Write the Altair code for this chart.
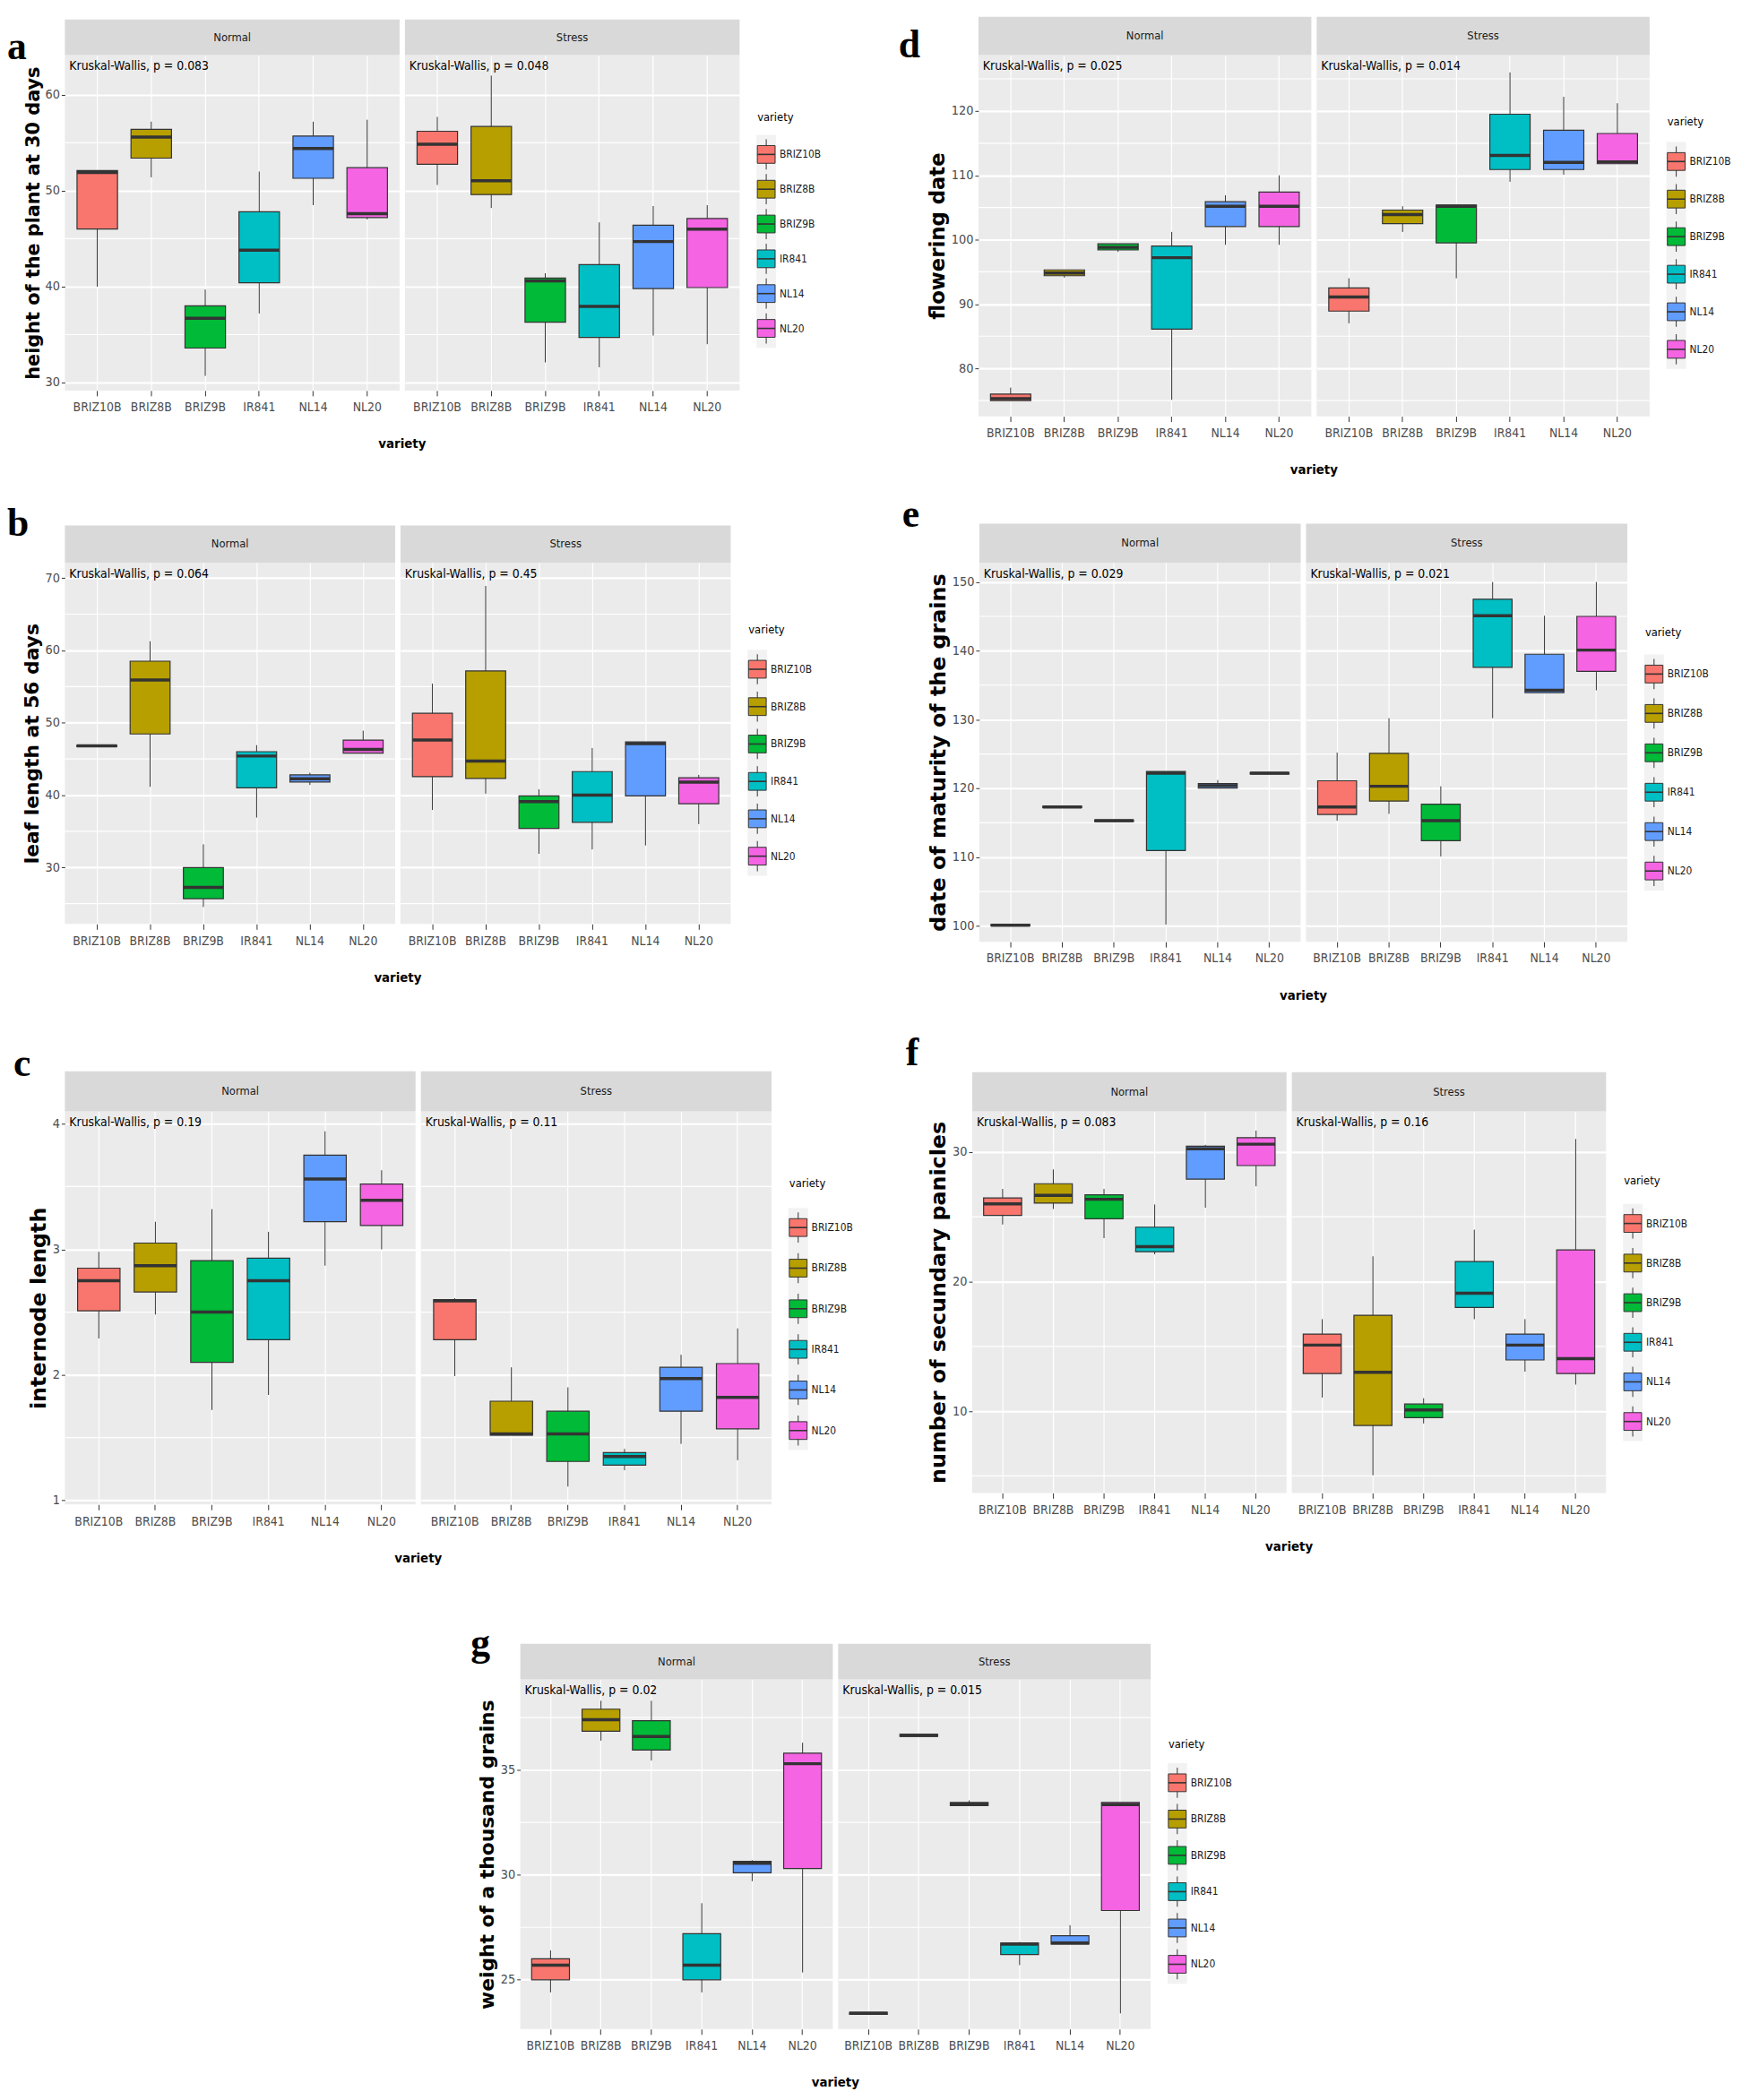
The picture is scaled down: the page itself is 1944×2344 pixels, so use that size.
import altair as alt
import pandas as pd

VARIETIES = ["BRIZ10B", "BRIZ8B", "BRIZ9B", "IR841", "NL14", "NL20"]
COLORS = ["#F8766D", "#B79F00", "#00BA38", "#00BFC4", "#619CFF", "#F564E3"]
CONDITIONS = ["Normal", "Stress"]

# ---------------- box statistics (whisker low, Q1, median, Q3, whisker high) ----------------
# a: height of the plant at 30 days
A_NORMAL = {"low": [40.0, 51.4, 30.7, 37.2, 48.5, 47.0],
            "q1": [46.0, 53.4, 33.6, 40.4, 51.3, 47.2],
            "med": [51.9, 55.6, 36.7, 43.8, 54.4, 47.6],
            "q3": [52.1, 56.4, 38.0, 47.8, 55.7, 52.4],
            "high": [52.1, 57.2, 39.7, 52.0, 57.2, 57.4]}
A_STRESS = {"low": [50.6, 48.2, 32.1, 31.6, 34.9, 34.0],
            "q1": [52.75, 49.6, 36.3, 34.7, 39.8, 39.9],
            "med": [54.85, 51.05, 40.6, 37.95, 44.7, 46.0],
            "q3": [56.2, 56.7, 40.9, 42.3, 46.4, 47.1],
            "high": [57.7, 62.0, 41.4, 46.7, 48.4, 48.5]}
A_P = ["Kruskal-Wallis, p = 0.083", "Kruskal-Wallis, p = 0.048"]

# d: flowering date
D_NORMAL = {"low": [75.0, 94.1, 98.1, 75.1, 99.2, 99.2],
            "q1": [75.0, 94.4, 98.4, 86.1, 102.05, 102.05],
            "med": [75.3, 94.8, 98.8, 97.2, 105.2, 105.2],
            "q3": [76.0, 95.3, 99.35, 99.0, 105.9, 107.4],
            "high": [77.0, 95.3, 99.35, 101.2, 106.9, 110.0]}
D_STRESS = {"low": [87.0, 101.2, 94.0, 109.0, 110.1, 111.8],
            "q1": [88.9, 102.5, 99.5, 110.9, 110.9, 111.8],
            "med": [91.1, 103.9, 105.2, 113.1, 112.0, 112.1],
            "q3": [92.5, 104.6, 105.4, 119.5, 117.0, 116.5],
            "high": [94.0, 105.2, 105.4, 126.0, 122.2, 121.2]}
D_P = ["Kruskal-Wallis, p = 0.025", "Kruskal-Wallis, p = 0.014"]

# b: leaf length at 56 days
B_NORMAL = {"low": [46.7, 41.15, 24.55, 36.9, 41.4, 45.8],
            "q1": [46.7, 48.45, 25.7, 41.0, 41.8, 45.8],
            "med": [46.8, 55.9, 27.25, 45.4, 42.25, 46.3],
            "q3": [46.9, 58.5, 30.0, 46.0, 42.8, 47.6],
            "high": [46.9, 61.25, 33.2, 46.9, 43.1, 48.9]}
B_STRESS = {"low": [37.95, 40.2, 31.9, 32.5, 33.05, 36.0],
            "q1": [42.55, 42.3, 35.4, 36.25, 39.9, 38.8],
            "med": [47.6, 44.7, 39.1, 40.0, 47.1, 41.8],
            "q3": [51.3, 57.15, 39.9, 43.25, 47.35, 42.4],
            "high": [55.4, 68.9, 40.8, 46.5, 47.35, 42.8]}
B_P = ["Kruskal-Wallis, p = 0.064", "Kruskal-Wallis, p = 0.45"]

# e: date of maturity of the grains
E_NORMAL = {"low": [100.0, 117.2, 115.2, 100.2, 120.05, 122.1],
            "q1": [100.0, 117.2, 115.2, 110.95, 120.05, 122.1],
            "med": [100.1, 117.3, 115.3, 122.2, 120.4, 122.2],
            "q3": [100.2, 117.4, 115.4, 122.45, 120.7, 122.3],
            "high": [100.2, 117.4, 115.4, 122.45, 121.2, 122.3]}
E_STRESS = {"low": [115.3, 116.3, 110.1, 130.2, 133.9, 134.25],
            "q1": [116.2, 118.15, 112.4, 137.6, 133.9, 137.0],
            "med": [117.3, 120.3, 115.3, 145.1, 134.25, 140.1],
            "q3": [121.1, 125.1, 117.7, 147.5, 139.5, 145.0],
            "high": [125.2, 130.2, 120.3, 150.0, 145.1, 150.0]}
E_P = ["Kruskal-Wallis, p = 0.029", "Kruskal-Wallis, p = 0.021"]

# c: internode length
C_NORMAL = {"low": [2.29, 2.48, 1.72, 1.84, 2.87, 3.00],
            "q1": [2.51, 2.66, 2.10, 2.28, 3.22, 3.19],
            "med": [2.75, 2.87, 2.50, 2.75, 3.56, 3.39],
            "q3": [2.85, 3.05, 2.91, 2.93, 3.75, 3.52],
            "high": [2.98, 3.22, 3.32, 3.14, 3.94, 3.63]}
C_STRESS = {"low": [1.99, 1.52, 1.11, 1.24, 1.45, 1.32],
            "q1": [2.28, 1.52, 1.31, 1.28, 1.71, 1.57],
            "med": [2.59, 1.53, 1.53, 1.35, 1.97, 1.82],
            "q3": [2.60, 1.79, 1.71, 1.38, 2.06, 2.09],
            "high": [2.61, 2.06, 1.90, 1.41, 2.16, 2.37]}
C_P = ["Kruskal-Wallis, p = 0.19", "Kruskal-Wallis, p = 0.11"]

# f: number of secundary panicles
F_NORMAL = {"low": [24.4, 25.6, 23.35, 22.1, 25.7, 27.35],
            "q1": [25.1, 26.05, 24.85, 22.3, 27.9, 28.95],
            "med": [26.0, 26.65, 26.35, 22.7, 30.25, 30.6],
            "q3": [26.45, 27.55, 26.7, 24.2, 30.45, 31.1],
            "high": [27.15, 28.65, 27.15, 25.95, 30.55, 31.65]}
F_STRESS = {"low": [11.05, 5.05, 9.05, 17.1, 13.05, 12.05],
            "q1": [12.9, 8.9, 9.5, 18.0, 13.95, 12.9],
            "med": [15.1, 13.0, 10.1, 19.1, 15.1, 14.05],
            "q3": [15.95, 17.4, 10.55, 21.55, 15.95, 22.45],
            "high": [17.1, 21.95, 11.0, 24.0, 17.1, 31.0]}
F_P = ["Kruskal-Wallis, p = 0.083", "Kruskal-Wallis, p = 0.16"]

# g: weight of a thousand grains
G_NORMAL = {"low": [24.4, 36.4, 35.45, 24.4, 29.7, 25.35],
            "q1": [25.0, 36.85, 35.95, 25.0, 30.1, 30.3],
            "med": [25.7, 37.4, 36.6, 25.7, 30.55, 35.3],
            "q3": [26.0, 37.9, 37.35, 27.2, 30.65, 35.8],
            "high": [26.4, 38.3, 38.3, 28.65, 30.7, 36.3]}
G_STRESS = {"low": [23.35, 36.6, 33.3, 25.7, 26.7, 23.4],
            "q1": [23.35, 36.6, 33.3, 26.2, 26.7, 28.3],
            "med": [23.4, 36.65, 33.37, 26.7, 26.75, 33.35],
            "q3": [23.45, 36.7, 33.45, 26.75, 27.1, 33.45],
            "high": [23.45, 36.7, 33.55, 26.8, 27.6, 33.45]}
G_P = ["Kruskal-Wallis, p = 0.02", "Kruskal-Wallis, p = 0.015"]

# axis tick values
A_TICKS, A_MINOR = [30, 40, 50, 60], [35, 45, 55]
D_TICKS, D_MINOR = [80, 90, 100, 110, 120], [75, 85, 95, 105, 115, 125]
B_TICKS, B_MINOR = [30, 40, 50, 60, 70], [25, 35, 45, 55, 65]
E_TICKS, E_MINOR = [100, 110, 120, 130, 140, 150], [105, 115, 125, 135, 145]
C_TICKS, C_MINOR = [1, 2, 3, 4], [1.5, 2.5, 3.5]
F_TICKS, F_MINOR = [10, 20, 30], [5, 15, 25]
G_TICKS, G_MINOR = [25, 30, 35], [27.5, 32.5, 37.5]

# ---------------- styling ----------------
SANS = "Liberation Sans Narrow, DejaVu Sans Condensed, Liberation Sans, Arial, sans-serif"
TITLEFONT = "DejaVu Sans, Liberation Sans, sans-serif"
SERIF = "Liberation Serif, DejaVu Serif, serif"
DARK = "#333333"
GRAY_TXT = "#4D4D4D"
PANEL_BG = "#EBEBEB"
STRIP_BG = "#D9D9D9"
LEG_W = 90

CSCALE = alt.Scale(domain=VARIETIES, range=COLORS)


def frame(stats):
    d = {"variety": VARIETIES}
    d.update(stats)
    return pd.DataFrame(d)


def subplot(stats, cond, plabel, cfg, first):
    W, H, SH = cfg["W"], cfg["H"], cfg["SH"]
    step = W / 6.2
    bw = 0.75 * step
    df = frame(stats)
    xsc = alt.Scale(type="band", domain=VARIETIES, paddingInner=0, paddingOuter=0.1)
    ysc = alt.Scale(domain=cfg["domain"], nice=False, zero=False)
    xaxis = alt.Axis(title=None, labelFont=SANS, labelFontSize=14, labelColor=GRAY_TXT,
                     labelAngle=0, tickColor=DARK, tickSize=6, labelPadding=6, domain=False,
                     grid=True, gridColor="white", gridWidth=1.2, bandPosition=0.5)
    if first:
        yaxis = alt.Axis(values=cfg["ticks"], format=".0f", title=cfg["ytitle"],
                         titleFont=TITLEFONT, titleFontWeight="bold", titleFontSize=cfg["tsize"],
                         titleColor="black", titlePadding=3, labelFont=SANS, labelFontSize=14.5,
                         labelColor=GRAY_TXT, tickColor=DARK, tickSize=4, labelPadding=2,
                         domain=False, grid=True, gridColor="white", gridWidth=2.2)
    else:
        yaxis = alt.Axis(values=cfg["ticks"], title=None, labels=False, ticks=False,
                         domain=False, grid=True, gridColor="white", gridWidth=2.2)
    x = alt.X("variety:N", scale=xsc, axis=xaxis)

    def Y(f):
        return alt.Y(f + ":Q", scale=ysc, axis=yaxis)

    minor = alt.Chart(pd.DataFrame({"v": cfg["minor"]})).mark_rule(
        color="white", strokeWidth=1.2).encode(y=Y("v"))
    base = alt.Chart(df)
    whisk = base.mark_rule(color=DARK, strokeWidth=1).encode(x=x, y=Y("low"), y2="high:Q")
    box = base.mark_bar(width=bw, stroke=DARK, strokeWidth=1.2).encode(
        x=x, y=Y("q1"), y2="q3:Q",
        color=alt.Color("variety:N", scale=CSCALE, legend=None))
    med = base.mark_tick(size=bw, thickness=3.5, color=DARK, orient="horizontal", opacity=1).encode(
        x=x, y=Y("med"))

    sdf = pd.DataFrame({"cond": [cond], "p": [plabel]})
    strip = alt.Chart(sdf).mark_rect(color=STRIP_BG).encode(
        x=alt.value(0), x2=alt.value(W), y=alt.value(-SH), y2=alt.value(0))
    strip_txt = alt.Chart(sdf).mark_text(font=SANS, fontSize=13, color="#1A1A1A",
                                         baseline="middle").encode(
        x=alt.value(W / 2), y=alt.value(-SH / 2), text="cond:N")
    ptxt = alt.Chart(sdf).mark_text(font=SANS, fontSize=14, color="black", align="left",
                                    baseline="middle").encode(
        x=alt.value(5), y=alt.value(13), text="p:N")
    layers = [minor, whisk, box, med, strip, strip_txt, ptxt]
    if first:
        letter = alt.Chart(pd.DataFrame({"t": [cfg["letter"]]})).mark_text(
            font=SERIF, fontWeight="bold", fontSize=44, color="black", align="left",
            baseline="top").encode(
            x=alt.value(cfg["ldx"]), y=alt.value(cfg["ldy"]), text="t:N")
        layers.append(letter)
    else:
        xt = alt.Chart(pd.DataFrame({"t": ["variety"]})).mark_text(
            font=SANS, fontWeight="bold", fontSize=15, color="black", align="center",
            baseline="middle").encode(
            x=alt.value(-3), y=alt.value(H + 60), text="t:N")
        layers.append(xt)
    return alt.layer(*layers).properties(
        width=W, height=H, view=alt.ViewBackground(fill=PANEL_BG, stroke=None))


def legend_chart(cfg):
    L = cfg["legend"]
    df = pd.DataFrame({"variety": VARIETIES})
    ysc = alt.Scale(type="point", domain=VARIETIES, range=[L["k0"], L["k1"]], padding=0)
    y = alt.Y("variety:N", scale=ysc, axis=None)
    kx = 24
    bg = alt.Chart(pd.DataFrame({"a": [VARIETIES[0]], "b": [VARIETIES[-1]]})).mark_rect(
        color="#F2F2F2", yOffset=-22, y2Offset=22).encode(
        x=alt.value(kx - 11), x2=alt.value(kx + 11), y=alt.Y("a:N", scale=ysc, axis=None),
        y2="b:N")
    whisk = alt.Chart(df).mark_tick(orient="vertical", size=34, thickness=1, color=DARK,
                                    opacity=1).encode(x=alt.value(kx), y=y)
    sq = alt.Chart(df).mark_square(size=400, opacity=1, stroke=DARK, strokeWidth=1).encode(
        x=alt.value(kx), y=y, color=alt.Color("variety:N", scale=CSCALE, legend=None))
    med = alt.Chart(df).mark_tick(orient="horizontal", size=20, thickness=1.6, color=DARK,
                                  opacity=1).encode(x=alt.value(kx), y=y)
    lab = alt.Chart(df).mark_text(align="left", baseline="middle", font=SANS, fontSize=12,
                                  color="#1A1A1A").encode(x=alt.value(kx + 15), y=y,
                                                          text="variety:N")
    title = alt.Chart(pd.DataFrame({"t": ["variety"]})).mark_text(
        align="left", baseline="middle", font=SANS, fontSize=13, color="black").encode(
        x=alt.value(kx - 10), y=alt.value(L["title_y"]), text="t:N")
    return alt.layer(bg, whisk, sq, med, lab, title).properties(
        width=LEG_W, height=cfg["H"], view=alt.ViewBackground(fill="white", stroke=None))


def panel(normal, stress, plabels, cfg):
    n = subplot(normal, CONDITIONS[0], plabels[0], cfg, True)
    s = subplot(stress, CONDITIONS[1], plabels[1], cfg, False)
    leg = legend_chart(cfg)
    return alt.hconcat(n, s, leg, spacing=6, bounds="flush").resolve_scale(
        x="independent", y="independent", color="independent")


CFG_A = dict(W=377, H=378, SH=40, domain=[29.17, 64.15], ticks=A_TICKS, minor=A_MINOR,
             ytitle="height of the plant at 30 days", tsize=21, letter="a", ldx=-65, ldy=-30,
             legend=dict(title_y=70, k0=112, k1=308))
CFG_D = dict(W=375, H=407, SH=43, domain=[72.55, 128.7], ticks=D_TICKS, minor=D_MINOR,
             ytitle="flowering date", tsize=23, letter="d", ldx=-90, ldy=-32,
             legend=dict(title_y=75, k0=120, k1=331.6))
CFG_B = dict(W=372, H=407, SH=42, domain=[22.2, 72.1], ticks=B_TICKS, minor=B_MINOR,
             ytitle="leaf length at 56 days", tsize=22, letter="b", ldx=-65, ldy=-65,
             legend=dict(title_y=76, k0=120, k1=330.6))
CFG_E = dict(W=362, H=427, SH=44, domain=[97.7, 152.8], ticks=E_TICKS, minor=E_MINOR,
             ytitle="date of maturity of the grains", tsize=24, letter="e", ldx=-87, ldy=-75,
             legend=dict(title_y=79, k0=125.4, k1=347.3))
CFG_C = dict(W=395, H=443, SH=45, domain=[0.967, 4.10], ticks=C_TICKS, minor=C_MINOR,
             ytitle="internode length", tsize=24, letter="c", ldx=-58, ldy=-75,
             legend=dict(title_y=81.5, k0=131, k1=359.7))
CFG_F = dict(W=354, H=430, SH=44, domain=[3.69, 33.14], ticks=F_TICKS, minor=F_MINOR,
             ytitle="number of secundary panicles", tsize=24, letter="f", ldx=-75, ldy=-87,
             legend=dict(title_y=78.6, k0=126.4, k1=349.5))
CFG_G = dict(W=352, H=394, SH=40, domain=[22.65, 39.32], ticks=G_TICKS, minor=G_MINOR,
             ytitle="weight of a thousand grains", tsize=22, letter="g", ldx=-56, ldy=-62,
             legend=dict(title_y=73, k0=116.5, k1=321))

pa = panel(A_NORMAL, A_STRESS, A_P, CFG_A)
pd_ = panel(D_NORMAL, D_STRESS, D_P, CFG_D)
pb = panel(B_NORMAL, B_STRESS, B_P, CFG_B)
pe = panel(E_NORMAL, E_STRESS, E_P, CFG_E)
pc = panel(C_NORMAL, C_STRESS, C_P, CFG_C)
pf = panel(F_NORMAL, F_STRESS, F_P, CFG_F)
pg = panel(G_NORMAL, G_STRESS, G_P, CFG_G)

IND = dict(x="independent", y="independent", color="independent")
row1 = alt.hconcat(pa, pd_, spacing=83).resolve_scale(**IND)
row2 = alt.hconcat(pb, pe, spacing=97).resolve_scale(**IND)
row3 = alt.hconcat(pc, pf, spacing=55).resolve_scale(**IND)
bottom = alt.vconcat(row3, pg, spacing=67, center=True).resolve_scale(**IND)
mid = alt.vconcat(row2, bottom, spacing=36).resolve_scale(**IND)
chart = alt.vconcat(row1, mid, spacing=22).resolve_scale(**IND).configure_view(
    stroke=None).properties(padding={"left": 0, "top": 0, "right": 0, "bottom": 0},
                            background="white")

chart.save("out.html", embed_options={"renderer": "svg", "actions": False})
